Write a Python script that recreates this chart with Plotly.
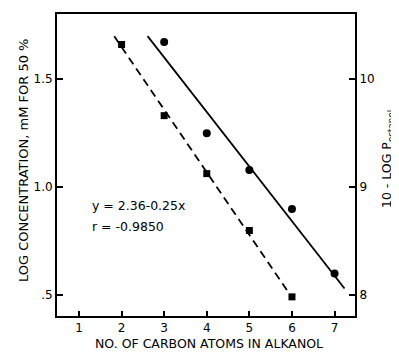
import plotly.graph_objects as go

# Data
carbon_sq = [2, 3, 4, 5, 6]
logconc_sq = [1.659, 1.330, 1.062, 0.799, 0.492]

carbon_ci = [3, 4, 5, 6, 7]
logconc_ci = [1.671, 1.249, 1.079, 0.898, 0.600]

# Fitted lines (endpoints as read)
dash_x = [1.827, 5.99]
dash_y = [1.6975, 0.492]
solid_x = [2.61, 7.234]
solid_y = [1.6975, 0.531]

x_ticks = [1, 2, 3, 4, 5, 6, 7]
y_ticks = [0.5, 1.0, 1.5]
y_ticktext = [".5", "1.0", "1.5"]
y2_ticks = [8, 9, 10]
y2_ticktext = ["8", "9", "10"]

FONT = "DejaVu Sans"
fs = 12
tfs = 13

fig = go.Figure()
fig.add_trace(go.Scatter(x=dash_x, y=dash_y, mode="lines",
                         line=dict(color="black", width=1.8, dash="8px,5px"),
                         showlegend=False, hoverinfo="skip"))
fig.add_trace(go.Scatter(x=solid_x, y=solid_y, mode="lines",
                         line=dict(color="black", width=1.8),
                         showlegend=False, hoverinfo="skip"))
fig.add_trace(go.Scatter(x=carbon_sq, y=logconc_sq, mode="markers",
                         marker=dict(symbol="square", size=7, color="black"),
                         showlegend=False))
fig.add_trace(go.Scatter(x=carbon_ci, y=logconc_ci, mode="markers",
                         marker=dict(symbol="circle", size=8, color="black"),
                         showlegend=False))
# trace on secondary axis to activate it
fig.add_trace(go.Scatter(x=[4], y=[9], yaxis="y2", mode="markers",
                         marker=dict(opacity=0), showlegend=False,
                         hoverinfo="skip"))

ylo, yhi = 0.4035, 1.80
# page body has an 8px margin, so the figure is offset by 8px
fig.update_layout(
    width=391, height=344,
    margin=dict(l=49, r=44, t=4, b=36),
    plot_bgcolor="white", paper_bgcolor="white",
    font=dict(family=FONT, size=fs, color="black"),
    xaxis=dict(range=[0.484, 7.48], tickvals=x_ticks, ticks="inside", ticklen=5,
               tickwidth=1.5, tickcolor="black", showline=True, linewidth=2,
               linecolor="black", mirror=True, showgrid=False, zeroline=False,
               tickfont=dict(size=fs)),
    yaxis=dict(range=[ylo, yhi], tickvals=y_ticks, ticktext=y_ticktext,
               ticks="inside", ticklen=6, tickwidth=1.5, tickcolor="black",
               showline=True, linewidth=2, linecolor="black",
               showgrid=False, zeroline=False, tickfont=dict(size=fs)),
    yaxis2=dict(range=[2 * ylo + 7, 2 * yhi + 7], overlaying="y", side="right",
                tickvals=y2_ticks, ticktext=y2_ticktext, ticks="inside",
                ticklen=6, tickwidth=1.5, tickcolor="black", showline=True,
                linewidth=2, linecolor="black", showgrid=False, zeroline=False,
                tickfont=dict(size=fs)),
)

fig.add_annotation(text="y = 2.36-0.25x", x=1.258, y=0.914, xref="x", yref="y",
                   xanchor="left", yanchor="middle", showarrow=False,
                   font=dict(size=12.5))
fig.add_annotation(text="r = -0.9850", x=1.258, y=0.817, xref="x", yref="y",
                   xanchor="left", yanchor="middle", showarrow=False,
                   font=dict(size=12.5))

fig.add_annotation(text="NO. OF CARBON ATOMS IN ALKANOL",
                   xref="x domain", yref="y domain",
                   x=(209 - 57) / 298, y=-(343.5 - 316) / 304,
                   xanchor="center", yanchor="middle", showarrow=False,
                   font=dict(size=12.5))
fig.add_annotation(text="LOG CONCENTRATION, mM FOR 50 %", textangle=-90,
                   xref="x domain", yref="y domain",
                   x=-(57 - 23) / 298, y=(316 - 159) / 304,
                   xanchor="center", yanchor="middle", showarrow=False,
                   font=dict(size=tfs))
fig.add_annotation(text="10 - LOG P<sub>octanol</sub>", textangle=-90,
                   xref="x domain", yref="y domain",
                   x=(387 - 57) / 298, y=(316 - 158) / 304,
                   xanchor="center", yanchor="middle", showarrow=False,
                   font=dict(size=12.5))

fig.write_html("out.html")
